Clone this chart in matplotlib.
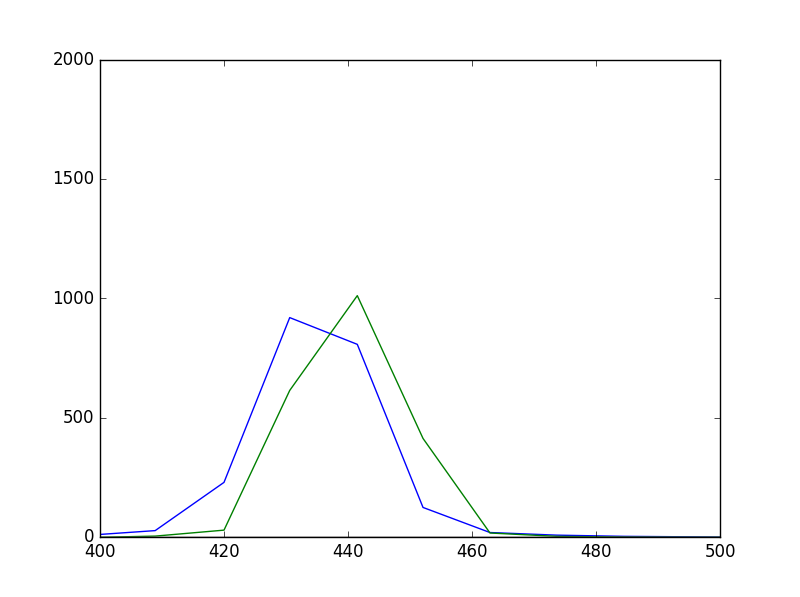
import numpy as np
import matplotlib
matplotlib.use("Agg")
import matplotlib.pyplot as plt

plt.style.use('classic')

# wavelength samples (nm)
wl = [400, 408.9, 420, 430.6, 441.5, 452.1, 462.9, 473.7, 484.5, 495.3, 500]

# series
s_blue = [12, 28, 230, 920, 808, 125, 20, 9, 4, 2, 1]
s_green = [0, 5, 30, 615, 1012, 414, 18, 4, 1, 0, 0]
s_red = [0, 0, 0, 0, 0, 0, 0, 0, 0, 0, 0]
s_cyan = [0, 0, 0, 0, 0, 0, 0, 0, 0, 0, 0]

fig = plt.figure(figsize=(8, 5.97), dpi=100)
plt.plot(wl, s_blue)
plt.plot(wl, s_green)
plt.plot(wl, s_red)
plt.plot(wl, s_cyan)

plt.xlim(400, 500)
plt.ylim(0, 2000)
plt.yticks([0, 500, 1000, 1500, 2000])

plt.savefig('out.png', dpi=100)
